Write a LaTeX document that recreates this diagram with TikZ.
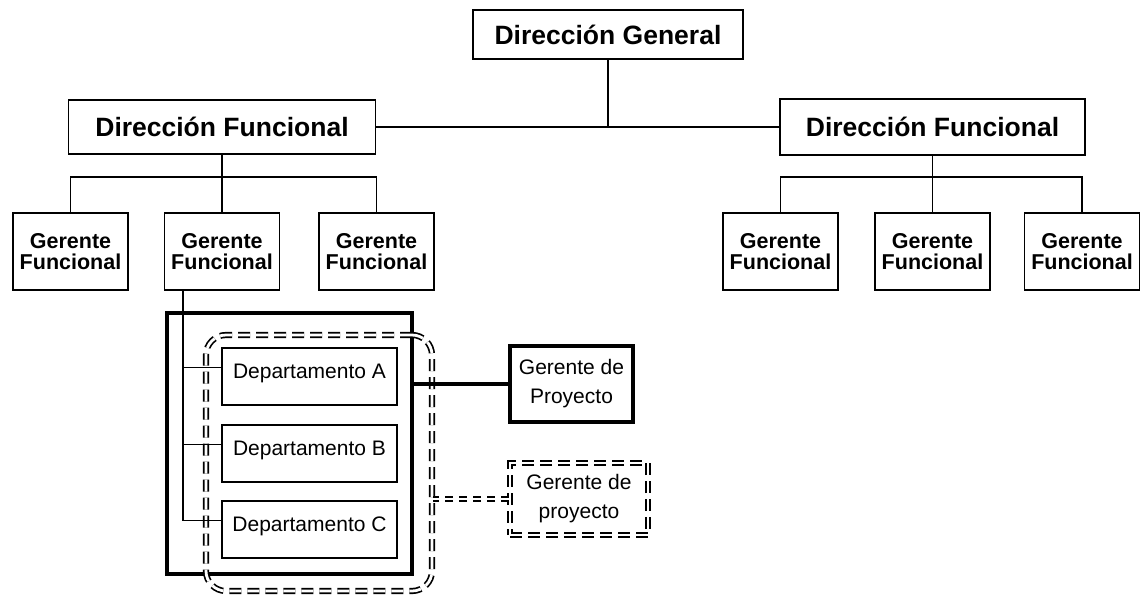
\documentclass[tikz,border=0pt]{standalone}
\usepackage{fontspec}
\setmainfont{Liberation Sans}
\usetikzlibrary{calc}
\begin{document}
\begin{tikzpicture}[x=1pt,y=-1pt,
  box/.style={draw, line width=1.7pt, inner sep=0pt, align=center},
  titulo/.style={box, font=\fontsize{26.5}{30}\selectfont\bfseries},
  gerente/.style={box, minimum width=115pt, minimum height=77pt,
    font=\fontsize{21.5}{20.5}\selectfont\bfseries},
  depto/.style={box, minimum width=175pt, minimum height=57pt,
    text height=16pt, text depth=13pt, font=\fontsize{21}{24}\selectfont},
  enlace/.style={line width=1.7pt},
  grueso/.style={line width=4.5pt},
  doblediscontinua/.style={line width=1.7pt, double, double distance=2.8pt,
    dash pattern=on 12pt off 6pt},
  proyecto/.style={font=\fontsize{21}{29}\selectfont, inner sep=0pt, align=center},
]
\useasboundingbox (0,0) rectangle (1140,595);

% upper management
\node[titulo, minimum width=270pt, minimum height=49pt] (dg) at (608,34.5) {Dirección General};
\node[titulo, minimum width=307pt, minimum height=54pt] (dfi) at (222,127) {Dirección Funcional};
\node[titulo, minimum width=305pt, minimum height=56pt] (dfd) at (932.5,127) {Dirección Funcional};
\draw[enlace] (dfi.east) -- (dfd.west);
\draw[enlace] (dg.south) -- (dg.south |- dfi.east);

% functional managers
\node[gerente] (gi1) at (70.5,251.5) {Gerente\\Funcional};
\node[gerente] (gi2) at (222,251.5) {Gerente\\Funcional};
\node[gerente] (gi3) at (376.5,251.5) {Gerente\\Funcional};
\node[gerente] (gd1) at (780.5,251.5) {Gerente\\Funcional};
\node[gerente] (gd2) at (932.5,251.5) {Gerente\\Funcional};
\node[gerente] (gd3) at (1082,251.5) {Gerente\\Funcional};

\coordinate (bi) at (222,177);
\coordinate (bd) at (932.5,177);
\draw[enlace] (dfi.south) -- (gi2.north);
\draw[enlace] (gi1.north) -- (gi1.north |- bi) -- (gi3.north |- bi) -- (gi3.north);
\draw[enlace] (dfd.south) -- (gd2.north);
\draw[enlace] (gd1.north) -- (gd1.north |- bd) -- (gd3.north |- bd) -- (gd3.north);

% functional area holding the departments
\node[draw, grueso, inner sep=0pt, minimum width=245pt, minimum height=261pt] (matriz) at (289.5,443.5) {};
\node[draw, doblediscontinua, rounded corners=20pt, inner sep=0pt,
  minimum width=226pt, minimum height=256pt] (equipo) at (319,463) {};

\node[depto] (depA) at (309.5,376.5) {Departamento A};
\node[depto] (depB) at (309.5,453.5) {Departamento B};
\node[depto] (depC) at (309.5,529.5) {Departamento C};

\coordinate (staff) at (183,0);
\coordinate (ra) at ($(depA.west)+(0,-9)$);
\coordinate (rb) at ($(depB.west)+(0,-9)$);
\coordinate (rc) at ($(depC.west)+(0,-9)$);
\draw[enlace] (gi2.south -| staff) -- (rc -| staff) -- (rc);
\draw[enlace] (ra -| staff) -- (ra);
\draw[enlace] (rb -| staff) -- (rb);

% project managers
\node[draw, proyecto, line width=4.5pt, minimum width=123pt, minimum height=76pt] (gdp) at (571.5,384) {Gerente de\\Proyecto};
\draw[grueso] (gdp.west) -- (gdp.west -| matriz.east);

\node[draw, proyecto, doblediscontinua, minimum width=138pt, minimum height=72pt] (gdp2) at (579,499) {Gerente de\\proyecto};
\draw[doblediscontinua, dash pattern=on 8pt off 6pt] (gdp2.west) -- (gdp2.west -| equipo.east);
\end{tikzpicture}
\end{document}
